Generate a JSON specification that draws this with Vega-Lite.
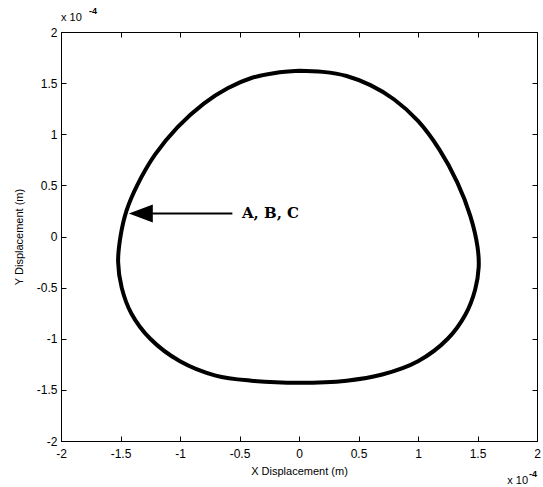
{
  "$schema": "https://vega.github.io/schema/vega-lite/v6.json",
  "autosize": "none",
  "width": 476,
  "height": 409,
  "padding": {"left": 61, "top": 32, "right": 6, "bottom": 46},
  "background": "white",
  "config": {
    "view": {"stroke": "black", "strokeWidth": 1},
    "font": "Liberation Sans",
    "axis": {
      "domainColor": "black",
      "tickColor": "black",
      "labelColor": "black",
      "titleColor": "black",
      "grid": false,
      "labelFont": "Liberation Sans",
      "titleFont": "Liberation Sans",
      "labelFontSize": 12,
      "titleFontSize": 11,
      "titleFontWeight": "normal",
      "tickSize": -5,
      "labelExpr": "'' + datum.value"
    }
  },
  "datasets": {
    "orbit": [
      {"i": 0, "x": 0.0, "y": 1.62},
      {"i": 1, "x": 0.2, "y": 1.61},
      {"i": 2, "x": 0.4, "y": 1.57},
      {"i": 3, "x": 0.6, "y": 1.48},
      {"i": 4, "x": 0.8, "y": 1.34},
      {"i": 5, "x": 1.0, "y": 1.13},
      {"i": 6, "x": 1.18, "y": 0.85},
      {"i": 7, "x": 1.33, "y": 0.53},
      {"i": 8, "x": 1.44, "y": 0.2},
      {"i": 9, "x": 1.5, "y": -0.1},
      {"i": 10, "x": 1.51, "y": -0.3},
      {"i": 11, "x": 1.48, "y": -0.52},
      {"i": 12, "x": 1.4, "y": -0.76},
      {"i": 13, "x": 1.25, "y": -1.0},
      {"i": 14, "x": 1.0, "y": -1.22},
      {"i": 15, "x": 0.7, "y": -1.35},
      {"i": 16, "x": 0.4, "y": -1.41},
      {"i": 17, "x": 0.0, "y": -1.43},
      {"i": 18, "x": -0.4, "y": -1.41},
      {"i": 19, "x": -0.7, "y": -1.36},
      {"i": 20, "x": -1.0, "y": -1.22},
      {"i": 21, "x": -1.25, "y": -1.0},
      {"i": 22, "x": -1.41, "y": -0.75},
      {"i": 23, "x": -1.49, "y": -0.5},
      {"i": 24, "x": -1.52, "y": -0.25},
      {"i": 25, "x": -1.5, "y": 0.0},
      {"i": 26, "x": -1.45, "y": 0.25},
      {"i": 27, "x": -1.36, "y": 0.5},
      {"i": 28, "x": -1.21, "y": 0.8},
      {"i": 29, "x": -1.02, "y": 1.07},
      {"i": 30, "x": -0.8, "y": 1.3},
      {"i": 31, "x": -0.6, "y": 1.45},
      {"i": 32, "x": -0.4, "y": 1.55},
      {"i": 33, "x": -0.2, "y": 1.6},
      {"i": 34, "x": 0.0, "y": 1.62}
    ],
    "pointer": [
      {"x": -0.56, "x2": -1.3, "y": 0.225, "tip": -1.43, "label": "A,  B,  C", "lx": -0.48}
    ],
    "multiplier": [
      {"x": -2, "y": 2, "corner": "top"},
      {"x": 2, "y": -2, "corner": "bottom"}
    ]
  },
  "layer": [
    {
      "data": {"name": "orbit"},
      "mark": {"type": "line", "color": "black", "strokeWidth": 4, "strokeJoin": "round", "interpolate": "catmull-rom"},
      "encoding": {
        "x": {
          "field": "x", "type": "quantitative",
          "scale": {"domain": [-2, 2], "nice": false, "zero": false},
          "axis": {"orient": "bottom", "values": [-2, -1.5, -1, -0.5, 0, 0.5, 1, 1.5, 2], "title": "X Displacement (m)", "labelPadding": 12, "titlePadding": 6, "labelFlush": false}
        },
        "y": {
          "field": "y", "type": "quantitative",
          "scale": {"domain": [-2, 2], "nice": false, "zero": false},
          "axis": {"orient": "left", "values": [-2, -1.5, -1, -0.5, 0, 0.5, 1, 1.5, 2], "title": "Y Displacement (m)", "labelPadding": 9, "titlePadding": 12, "labelFlush": false}
        },
        "order": {"field": "i", "type": "quantitative"}
      }
    },
    {
      "data": {"name": "pointer"},
      "mark": {"type": "rule", "color": "black", "strokeWidth": 2},
      "encoding": {
        "x": {"field": "x", "type": "quantitative", "axis": {"orient": "top", "values": [-2, -1.5, -1, -0.5, 0, 0.5, 1, 1.5, 2], "labels": false, "title": null, "domain": false}},
        "x2": {"field": "x2"},
        "y": {"field": "y", "type": "quantitative", "axis": {"orient": "right", "values": [-2, -1.5, -1, -0.5, 0, 0.5, 1, 1.5, 2], "labels": false, "title": null, "domain": false}}
      }
    },
    {
      "data": {"name": "pointer"},
      "mark": {"type": "point", "filled": true, "color": "black", "opacity": 1, "size": 576, "shape": "M 0 0 L 2 -0.75 L 2 0.75 Z"},
      "encoding": {
        "x": {"field": "tip", "type": "quantitative", "axis": null},
        "y": {"field": "y", "type": "quantitative", "axis": null}
      }
    },
    {
      "data": {"name": "pointer"},
      "mark": {"type": "text", "font": "DejaVu Serif", "fontWeight": "bold", "fontSize": 15, "align": "left", "baseline": "middle", "color": "black"},
      "encoding": {
        "x": {"field": "lx", "type": "quantitative", "axis": null},
        "y": {"field": "y", "type": "quantitative", "axis": null},
        "text": {"field": "label"}
      }
    },
    {
      "data": {"name": "multiplier"},
      "transform": [{"filter": "datum.corner === 'top'"}],
      "layer": [
        {
          "mark": {"type": "text", "text": "x 10", "fontSize": 11, "align": "left", "baseline": "middle", "dy": -14, "clip": false, "color": "black"},
          "encoding": {"x": {"field": "x", "type": "quantitative", "axis": null}, "y": {"field": "y", "type": "quantitative", "axis": null}}
        },
        {
          "mark": {"type": "text", "text": "-4", "fontSize": 9, "fontWeight": "bold", "align": "left", "baseline": "middle", "dx": 28, "dy": -21, "clip": false, "color": "black"},
          "encoding": {"x": {"field": "x", "type": "quantitative", "axis": null}, "y": {"field": "y", "type": "quantitative", "axis": null}}
        }
      ]
    },
    {
      "data": {"name": "multiplier"},
      "transform": [{"filter": "datum.corner === 'bottom'"}],
      "layer": [
        {
          "mark": {"type": "text", "text": "x 10", "fontSize": 11, "align": "right", "baseline": "middle", "dx": -9, "dy": 40, "clip": false, "color": "black"},
          "encoding": {"x": {"field": "x", "type": "quantitative", "axis": null}, "y": {"field": "y", "type": "quantitative", "axis": null}}
        },
        {
          "mark": {"type": "text", "text": "-4", "fontSize": 9, "fontWeight": "bold", "align": "left", "baseline": "middle", "dx": -8, "dy": 33, "clip": false, "color": "black"},
          "encoding": {"x": {"field": "x", "type": "quantitative", "axis": null}, "y": {"field": "y", "type": "quantitative", "axis": null}}
        }
      ]
    }
  ],
  "resolve": {"axis": {"x": "independent", "y": "independent"}}
}
